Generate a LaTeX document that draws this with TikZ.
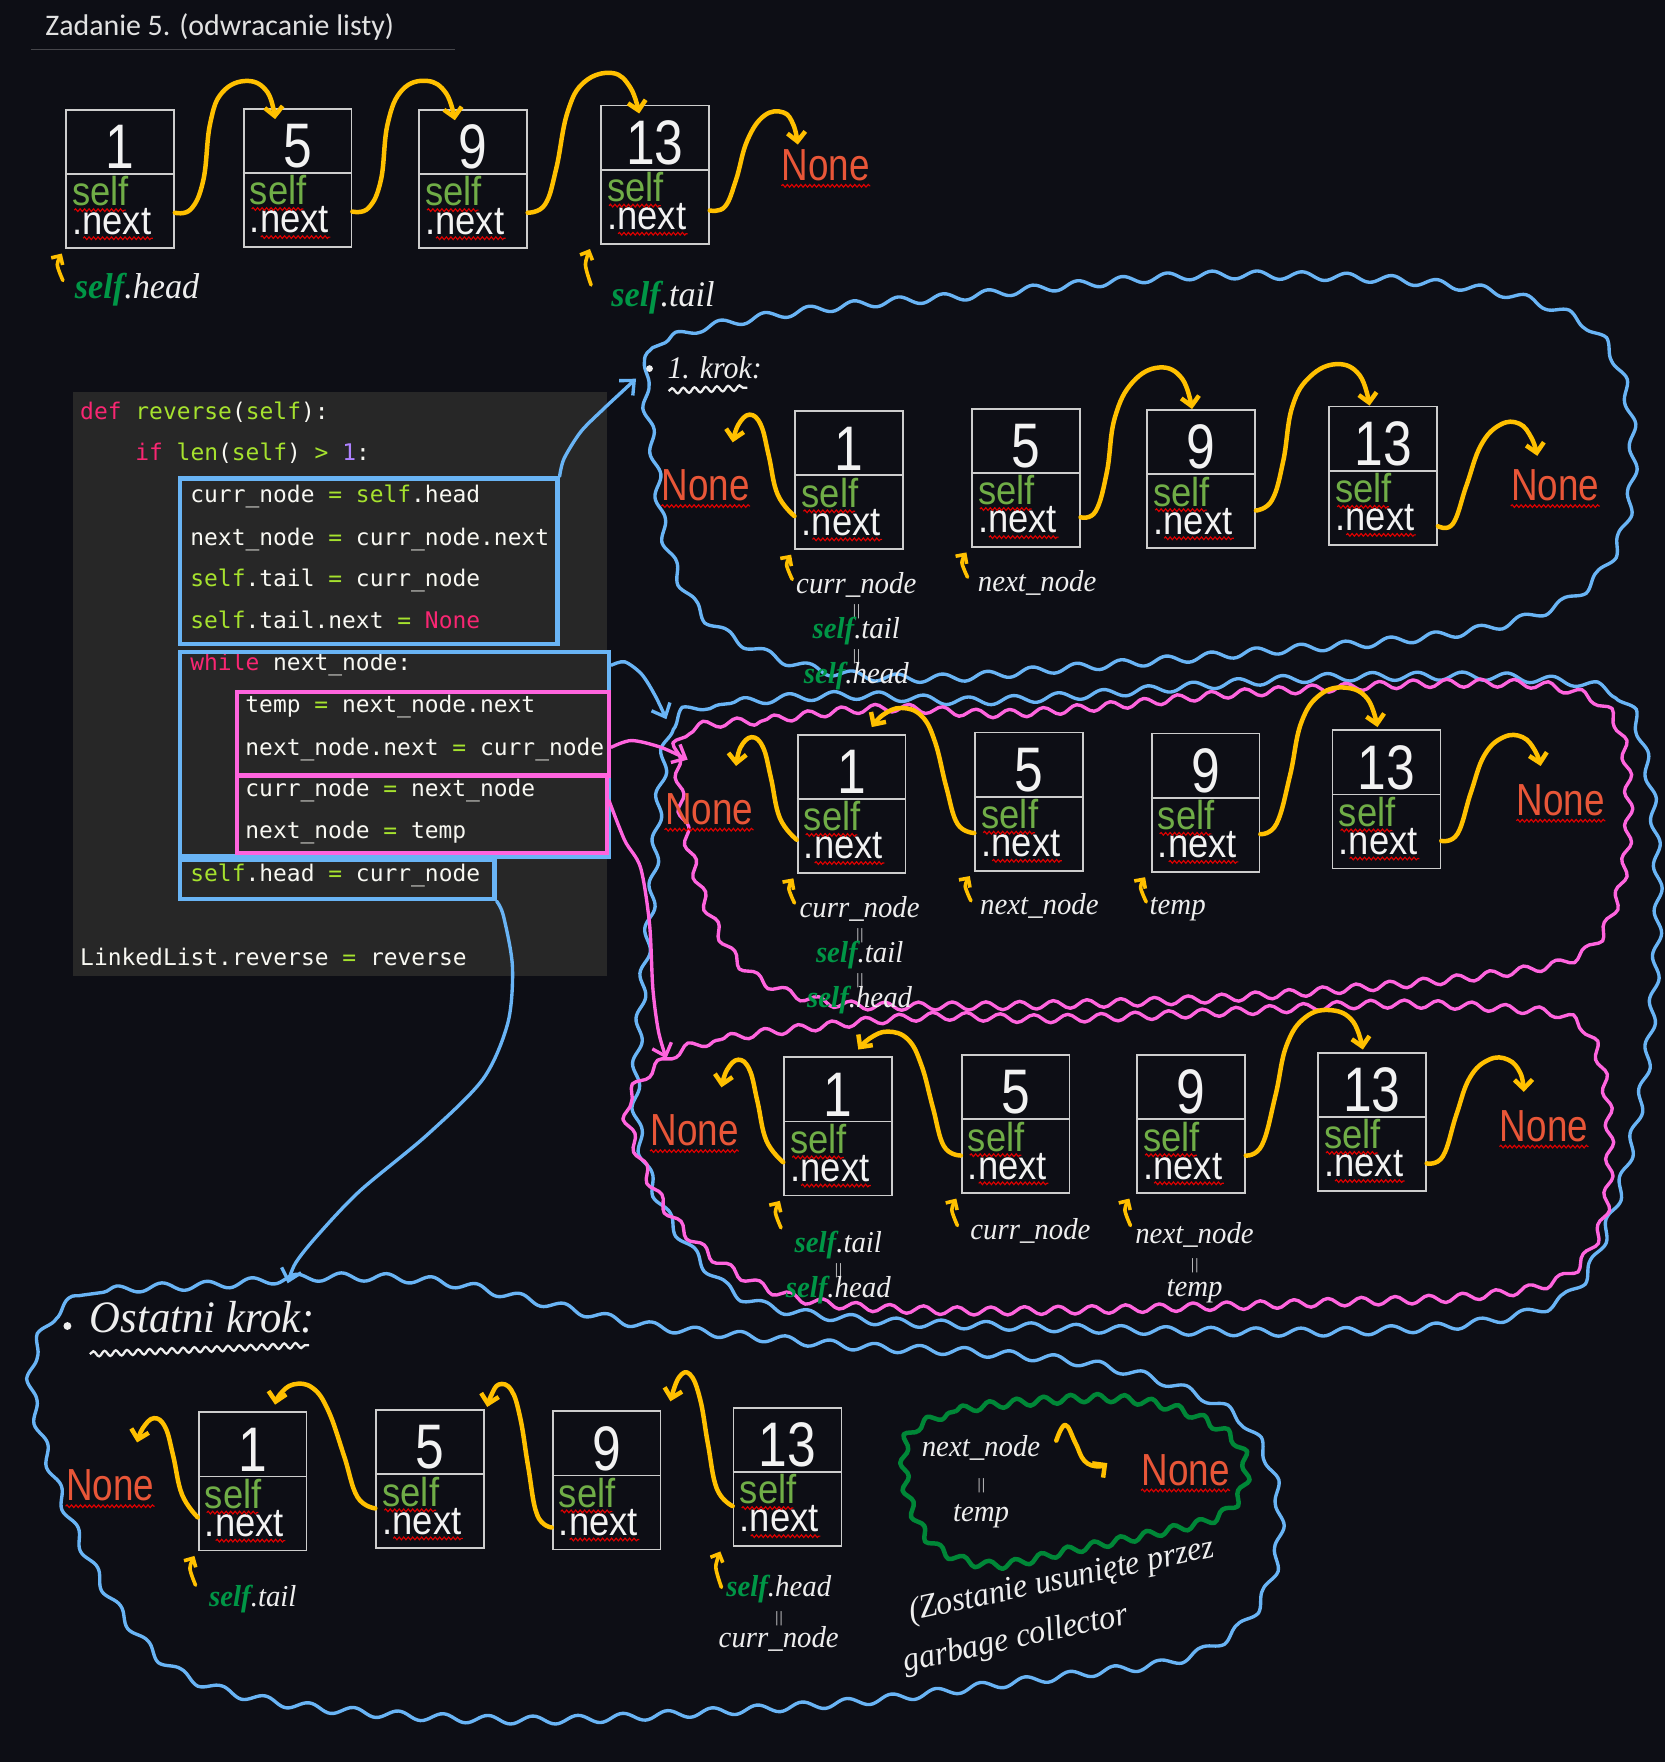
\documentclass[tikz,border=0pt]{standalone}
\usepackage{fontspec}
\usetikzlibrary{calc,arrows.meta,decorations.pathmorphing}
\newfontfamily\narrowfont{Liberation Sans}[FakeStretch=0.82]
\newfontfamily\boxfont{Liberation Sans}[FakeStretch=0.9]
\newfontfamily\titlefont{Carlito}
\newfontfamily\codefont{DejaVu Sans Mono}
\newfontfamily\handfont{Liberation Serif}[FakeStretch=0.95]
\definecolor{bg}{RGB}{13,14,21}
\definecolor{boxgray}{RGB}{205,205,205}
\definecolor{numwhite}{RGB}{242,242,242}
\definecolor{selfgreen}{RGB}{112,173,71}
\definecolor{nonered}{RGB}{232,86,56}
\definecolor{spellred}{RGB}{225,0,0}
\definecolor{yel}{RGB}{255,192,0}
\definecolor{blu}{RGB}{105,180,245}
\definecolor{pnk}{RGB}{255,100,222}
\definecolor{hgreen}{RGB}{0,150,70}
\definecolor{gblobc}{RGB}{0,135,55}
\definecolor{handwhite}{RGB}{238,238,238}
\definecolor{codebgc}{RGB}{39,39,39}
\definecolor{ckc}{RGB}{249,38,114}
\definecolor{cgc}{RGB}{166,226,46}
\definecolor{cpc}{RGB}{174,129,255}
\definecolor{cwc}{RGB}{248,248,242}
\definecolor{titlec}{RGB}{225,225,225}
\definecolor{titleline}{RGB}{70,70,75}
\newcommand\ck[1]{{\color{ckc}#1}}
\newcommand\cg[1]{{\color{cgc}#1}}
\newcommand\cp[1]{{\color{cpc}#1}}
\newcommand\hs{{\color{hgreen}\bfseries self}}
\newcommand\eqs{{\fontsize{7}{8}\selectfont ||}}
\newcommand\cstack[2]{\vbox{\baselineskip=#1\relax\lineskiplimit=-30pt\relax\lineskip=0pt\relax\halign{\hfil##\hfil\cr#2\crcr}}}
\newcommand\lstack[2]{\vbox{\baselineskip=#1\relax\lineskiplimit=-30pt\relax\lineskip=0pt\relax\halign{##\hfil\cr#2\crcr}}}
\tikzset{
 lbox/.style={draw=boxgray, fill=bg, line width=0.8pt, minimum width=48pt, minimum height=61.5pt, inner sep=0pt, anchor=north west},
 divl/.style={draw=boxgray, line width=0.8pt},
 numtxt/.style={text=numwhite, font=\narrowfont\fontsize{28}{30}\selectfont, inner sep=0pt},
 boxtxt/.style={text=numwhite, font=\boxfont\fontsize{18}{20}\selectfont, inner sep=0pt, anchor=north west},
 nonetxt/.style={text=nonered, font=\narrowfont\fontsize{20}{22}\selectfont, inner sep=0pt},
 spell/.style={draw=spellred, line width=0.5pt, decorate, decoration={snake, amplitude=0.6pt, segment length=2pt}},
 yarr/.style={draw=yel, line width=2pt, line cap=round, line join=round, -{Straight Barb[length=4pt,width=8pt]}},
 yptr/.style={draw=yel, line width=1.6pt, line cap=round, -{Straight Barb[length=3pt,width=6pt]}},
 hand/.style={text=handwhite, font=\handfont\itshape\fontsize{13.5}{15}\selectfont, inner sep=0pt, anchor=base},
 handstack/.style={text=handwhite, font=\handfont\itshape\fontsize{13.5}{15}\selectfont, inner sep=0pt, anchor=north},
 bighand/.style={text=handwhite, font=\handfont\itshape\fontsize{16}{18}\selectfont, inner sep=0pt, anchor=base},
 codetxt/.style={font=\codefont\fontsize{10.2}{12}\selectfont, inner sep=0pt, anchor=base west, text=cwc},
 cbox/.style={draw=blu, line width=2pt, anchor=north west, inner sep=0pt},
 pbox/.style={draw=pnk, line width=2pt, anchor=north west, inner sep=0pt},
 bblob/.style={draw=blu, line width=1.5pt, line join=round, decorate, decoration={snake, amplitude=1.8pt, segment length=20pt}},
 pblob/.style={draw=pnk, line width=1.5pt, line join=round, decorate, decoration={snake, amplitude=1.8pt, segment length=15pt}},
 gblob/.style={draw=gblobc, line width=2pt, line join=round, decorate, decoration={snake, amplitude=1.8pt, segment length=12pt}},
 wavyu/.style={draw=handwhite, line width=1pt, decorate, decoration={snake, amplitude=1.2pt, segment length=5pt}},
 barr/.style={draw=blu, line width=1.5pt, line cap=round, -{Straight Barb[length=5pt,width=9pt]}},
 parr/.style={draw=pnk, line width=1.5pt, line cap=round, -{Straight Barb[length=5pt,width=9pt]}},
}
\newcommand\LB[4]{%
 \node[lbox] (#1) at (#2,#3) {};
 \draw[divl] ($(#1.north west)+(0,58)$) -- ($(#1.north east)+(0,58)$);
 \node[numtxt] (#1n) at ($(#1.north)+(0,34)$) {#4};
 \node[boxtxt] (#1s) at ($(#1.north west)+(6,59.8)$) {\lstack{12.5pt}{{\color{selfgreen}self}\cr .next}};
 \draw[spell] ($(#1.north west)+(8,90)$) -- ++(46,0);
 \draw[spell] ($(#1.north west)+(16,115)$) -- ++(62,0);
}
\newcommand\NN[3]{\node[nonetxt] (#1) at (#2,#3) {None};
 \draw[spell] ($(#1.south west)+(0,4)$) -- ($(#1.south east)+(0,4)$);}
\newcommand\CONN[4]{\coordinate (cs) at #2; \coordinate (ce) at #3;
 \draw[#1] plot[smooth, tension=0.7] coordinates {(cs) #4 (ce)};}
\newcommand\PTR[3]{% node, dx, len
 \coordinate (ps) at ($(#1.south west)+(#2,#3)$);
 \coordinate (pm) at ($(#1.south west)+(#2-5,#3*0.5)$);
 \coordinate (pe) at ($(#1.south west)+(#2-1,4)$);
 \draw[yptr] plot[smooth] coordinates {(ps) (pm) (pe)};}
\begin{document}
\begin{tikzpicture}[x=0.5pt,y=-0.5pt]
\useasboundingbox (0,0) rectangle (1482,1568);
\fill[bg] (0,0) rectangle (1482,1568);

% title
\node[text=titlec, font=\titlefont\fontsize{13.3}{15}\selectfont, inner sep=0pt, anchor=west] (title) at (40,24) {Zadanie 5. (odwracanie listy)};
\draw[titleline, line width=0.6pt] (28,44) -- (405,44);

% ---------- blobs ----------
\draw[bblob] plot[smooth cycle, tension=0.6] coordinates {(566,338) (592,305) (650,290) (750,276) (850,268) (950,258) (1050,250) (1150,250) (1250,255) (1340,268) (1405,295) (1435,340) (1445,410) (1435,480) (1400,530) (1330,560) (1230,575) (1130,583) (1030,592) (930,600) (830,608) (740,604) (670,585) (615,550) (585,490) (575,420)};
\draw[bblob] plot[smooth cycle, tension=0.6] coordinates {(592,640) (650,626) (750,620) (850,625) (950,620) (1050,612) (1150,605) (1250,603) (1350,605) (1430,620) (1455,680) (1465,780) (1462,880) (1450,980) (1425,1080) (1390,1150) (1320,1176) (1200,1186) (1050,1186) (900,1182) (760,1176) (660,1160) (610,1120) (572,1060) (556,990) (560,900) (570,800) (578,700)};
\draw[pblob] plot[smooth cycle, tension=0.6] coordinates {(602,652) (680,641) (780,631) (880,636) (980,629) (1080,619) (1180,613) (1280,609) (1380,613) (1430,642) (1442,720) (1432,800) (1400,850) (1320,868) (1200,880) (1080,889) (960,894) (840,896) (730,893) (662,868) (627,820) (607,760) (597,700)};
\draw[pblob] plot[smooth cycle, tension=0.6] coordinates {(592,940) (642,925) (720,915) (820,906) (920,908) (1020,905) (1120,900) (1220,895) (1320,898) (1395,910) (1420,960) (1425,1040) (1415,1100) (1380,1140) (1300,1155) (1180,1160) (1060,1164) (940,1167) (820,1167) (710,1158) (642,1130) (592,1085) (562,1030) (552,980)};
\draw[bblob] plot[smooth cycle, tension=0.6] coordinates {(42,1168) (92,1150) (180,1145) (280,1138) (380,1142) (470,1160) (560,1180) (660,1191) (760,1200) (860,1205) (960,1215) (1040,1236) (1100,1270) (1127,1330) (1124,1398) (1095,1448) (1040,1478) (960,1490) (880,1500) (760,1515) (620,1525) (480,1532) (350,1528) (230,1515) (150,1490) (100,1440) (60,1370) (30,1290) (18,1220)};
\draw[gblob] plot[smooth cycle, tension=0.6] coordinates {(806,1275) (850,1256) (920,1248) (990,1246) (1050,1258) (1095,1285) (1102,1320) (1080,1350) (1020,1366) (950,1380) (880,1394) (830,1380) (806,1345) (799,1305)};

% ---------- code ----------
\node[fill=codebgc, minimum width=237.5pt, minimum height=260pt, anchor=north west, inner sep=0pt] (code) at (65,348) {};
\node[codetxt] (l1) at (71,373) {\ck{def} \cg{reverse}(\cg{self}):};
\node[codetxt] (l2) at (120,410) {\ck{if} \cg{len}(\cg{self}) \cg{>} \cp{1}:};
\node[codetxt] (l3) at (169,447) {curr\_node \cg{=} \cg{self}.head};
\node[codetxt] (l4) at (169,485) {next\_node \cg{=} curr\_node.next};
\node[codetxt] (l5) at (169,522) {\cg{self}.tail \cg{=} curr\_node};
\node[codetxt] (l6) at (169,559) {\cg{self}.tail.next \cg{=} \ck{None}};
\node[codetxt] (l7) at (169,597) {\ck{while} next\_node:};
\node[codetxt] (l8) at (218,634) {temp \cg{=} next\_node.next};
\node[codetxt] (l9) at (218,672) {next\_node.next \cg{=} curr\_node};
\node[codetxt] (l10) at (218,709) {curr\_node \cg{=} next\_node};
\node[codetxt] (l11) at (218,746) {next\_node \cg{=} temp};
\node[codetxt] (l12) at (169,784) {\cg{self}.head \cg{=} curr\_node};
\node[codetxt] (l13) at (71,859) {LinkedList.reverse \cg{=} reverse};
\node[cbox, minimum width=168pt, minimum height=73.5pt] (cA) at (158,424) {};
\node[cbox, minimum width=191pt, minimum height=91pt] (cB) at (158,578) {};
\node[pbox, minimum width=165.5pt, minimum height=37pt] (cC) at (209,614) {};
\node[pbox, minimum width=164.5pt, minimum height=34.5pt] (cD) at (209,688) {};
\node[cbox, minimum width=140pt, minimum height=17.5pt] (cE) at (158,763) {};

% code-to-blob connectors
\coordinate (k1) at (566,337);
\coordinate (k2) at (593,640);
\coordinate (k3) at (612,676);
\coordinate (k4) at (593,942);
\coordinate (k5) at (256,1142);
\draw[barr] plot[smooth] coordinates {(cA.north east) (502,408) (517,384) (537,364) (552,350) (k1)};
\coordinate (b0) at ($(cB.north east)+(0,14)$);
\draw[barr] plot[smooth] coordinates {(b0) (556,589) (571,600) (583,619) (k2)};
\coordinate (p0) at ($(cC.east)+(0,12)$);
\draw[parr] plot[smooth] coordinates {(p0) (562,659) (588,665) (k3)};
\coordinate (p1) at ($(cD.east)+(0,-12)$);
\draw[parr] plot[smooth] coordinates {(p1) (556,748) (570,772) (578,822) (581,880) (586,918) (k4)};
\draw[barr] plot[smooth] coordinates {(cE.south east) (448,815) (456,860) (452,910) (430,960) (380,1010) (320,1060) (282,1100) (263,1124) (k5)};

% ---------- top row ----------
\LB{t1}{58}{97}{1}
\LB{t5}{216}{96}{5}
\LB{t9}{372}{97}{9}
\LB{t13}{534}{93}{13}
\NN{tN}{735}{147}
\CONN{yarr}{($(t1.east)+(0,30)$)}{($(t5.north)+(-20,10)$)}{(170,186) (181,160) (187,110) (198,82) (220,72) (238,82)}
\CONN{yarr}{($(t5.east)+(0,30)$)}{($(t9.north)+(-16,10)$)}{(328,185) (339,160) (345,110) (358,80) (380,72) (397,83)}
\CONN{yarr}{($(t9.east)+(0,30)$)}{($(t13.north)+(-14,8)$)}{(485,182) (495,150) (505,100) (520,73) (545,65) (561,78)}
\CONN{yarr}{($(t13.east)+(0,32)$)}{($(tN.north)+(-25,-4)$)}{(645,184) (655,160) (665,125) (680,103) (697,100) (706,111)}
\node[bighand] (th) at (122,266) {\hs.head};
\node[bighand] (tt) at (590,273) {\hs.tail};
\PTR{t1}{-2}{28}
\PTR{t13}{-8}{36}

% ---------- 1. krok ----------
\fill[handwhite] (578,328) circle (3);
\node[hand, font=\handfont\itshape\fontsize{14}{16}\selectfont, anchor=center] (k1t) at (636,327) {1. krok:};
\draw[wavyu] (595,348) -- (665,345);
\LB{a1}{707}{365}{1}
\LB{a5}{864}{363}{5}
\LB{a9}{1020}{364}{9}
\LB{a13}{1182}{361}{13}
\NN{aL}{628}{432}
\NN{aR}{1384}{432}
\CONN{yarr}{($(a1.west)+(0,32)$)}{($(aL.north)+(24,-24)$)}{(692,440) (684,405) (677,378) (667,369) (657,378)}
\CONN{yarr}{($(a5.east)+(0,35)$)}{($(a9.north)+(-8,0)$)}{(975,455) (985,420) (992,372) (1008,340) (1032,327) (1052,337)}
\CONN{yarr}{($(a9.east)+(0,28)$)}{($(a13.north)+(-12,0)$)}{(1132,445) (1142,410) (1150,362) (1166,335) (1190,324) (1210,334)}
\CONN{yarr}{($(a13.east)+(0,45)$)}{($(aR.north)+(-16,-12)$)}{(1293,466) (1305,432) (1318,396) (1335,378) (1352,377) (1363,390)}
\PTR{a1}{-2}{26}
\PTR{a5}{-3}{26}
\node[handstack] (acn) at (762,509) {\cstack{10pt}{curr\_node\cr\eqs\cr\hs.tail\cr\eqs\cr\hs.head}};
\node[hand] (ann) at (923,526) {next\_node};

% ---------- iteration 2 ----------
\LB{b1}{709}{653}{1}
\LB{b5}{867}{651}{5}
\LB{b9}{1024}{652}{9}
\LB{b13}{1185}{649}{13}
\NN{bL}{631}{720}
\NN{bR}{1389}{712}
\CONN{yarr}{($(b1.west)+(0,32)$)}{($(bL.north)+(24,-24)$)}{(694,728) (686,692) (679,665) (669,656) (659,665)}
\CONN{yarr}{($(b5.west)+(0,28)$)}{($(b1.north)+(18,-6)$)}{(852,733) (842,700) (832,660) (820,637) (802,630) (786,636)}
\CONN{yarr}{($(b9.east)+(0,28)$)}{($(b13.north)+(-8,-2)$)}{(1136,733) (1148,690) (1158,643) (1175,618) (1198,612) (1217,622)}
\CONN{yarr}{($(b13.east)+(0,37)$)}{($(bR.north)+(-18,-16)$)}{(1297,742) (1309,705) (1321,672) (1338,656) (1355,656) (1366,668)}
\PTR{b1}{-2}{26}
\PTR{b5}{-3}{26}
\PTR{b9}{-4}{26}
\node[handstack] (bcn) at (765,797) {\cstack{10pt}{curr\_node\cr\eqs\cr\hs.tail\cr\eqs\cr\hs.head}};
\node[hand] (bnn) at (925,814) {next\_node};
\node[hand] (btp) at (1048,814) {temp};

% ---------- iteration 3 ----------
\LB{c1}{697}{940}{1}
\LB{c5}{855}{938}{5}
\LB{c9}{1011}{938}{9}
\LB{c13}{1172}{936}{13}
\NN{cL}{618}{1006}
\NN{cR}{1374}{1002}
\CONN{yarr}{($(c1.west)+(0,32)$)}{($(cL.north)+(24,-24)$)}{(682,1015) (674,980) (667,952) (657,943) (647,952)}
\CONN{yarr}{($(c5.west)+(0,28)$)}{($(c1.north)+(18,-6)$)}{(840,1020) (830,985) (820,948) (808,925) (790,918) (774,924)}
\CONN{yarr}{($(c9.east)+(0,28)$)}{($(c13.north)+(-8,-2)$)}{(1123,1019) (1135,975) (1145,930) (1162,905) (1185,899) (1204,909)}
\CONN{yarr}{($(c13.east)+(0,37)$)}{($(cR.north)+(-18,-16)$)}{(1284,1029) (1296,992) (1308,959) (1325,943) (1342,943) (1353,955)}
\PTR{c1}{-2}{28}
\PTR{c5}{-3}{28}
\PTR{c9}{-5}{28}
\node[handstack] (cst) at (746,1095) {\cstack{10pt}{\hs.tail\cr\eqs\cr\hs.head}};
\node[hand] (ccn) at (917,1103) {curr\_node};
\node[handstack] (cnn) at (1063,1087) {\cstack{12pt}{next\_node\cr\eqs\cr temp}};

% ---------- last step ----------
\fill[handwhite] (60,1180) circle (3.5);
\node[hand, font=\handfont\itshape\fontsize{20}{22}\selectfont, anchor=center] (okt) at (180,1172) {Ostatni krok:};
\draw[wavyu] (80,1205) -- (275,1197);
\LB{d1}{176}{1256}{1}
\LB{d5}{334}{1254}{5}
\LB{d9}{491}{1255}{9}
\LB{d13}{652}{1252}{13}
\NN{dL}{98}{1322}
\CONN{yarr}{($(d1.west)+(0,32)$)}{($(dL.north)+(24,-24)$)}{(162,1330) (154,1295) (147,1270) (137,1262) (127,1271)}
\CONN{yarr}{($(d5.west)+(0,26)$)}{($(d1.north)+(20,-6)$)}{(318,1332) (306,1295) (292,1255) (278,1235) (261,1232) (249,1241)}
\CONN{yarr}{($(d9.west)+(0,42)$)}{($(d5.north east)+(2,-2)$)}{(478,1348) (470,1305) (463,1262) (455,1237) (444,1232) (437,1242)}
\CONN{yarr}{($(d13.west)+(0,26)$)}{($(d9.north east)+(8,-8)$)}{(638,1325) (630,1285) (623,1245) (614,1223) (604,1226)}
\PTR{d1}{-2}{30}
\PTR{d13}{-10}{36}
\node[hand] (dst) at (225,1430) {\hs.tail};
\node[handstack] (dsh) at (693,1401) {\cstack{11.5pt}{\hs.head\cr\eqs\cr curr\_node}};

% green blob content
\node[handstack] (gnn) at (873,1277) {\cstack{14.5pt}{next\_node\cr\eqs\cr temp}};
\NN{gN}{1055}{1308}
\coordinate (gs) at (940,1282);
\CONN{yarr}{(gs)}{($(gN.west)+(-30,-6)$)}{(948,1268) (957,1284) (965,1300) (977,1305)}
\node[text=handwhite, font=\handfont\itshape\fontsize{15}{17}\selectfont, inner sep=0pt, anchor=north west, rotate=12] (gc) at (806,1422) {\lstack{21.5pt}{(Zostanie usunięte przez\cr\hskip-7pt garbage collector}};
\end{tikzpicture}
\end{document}
